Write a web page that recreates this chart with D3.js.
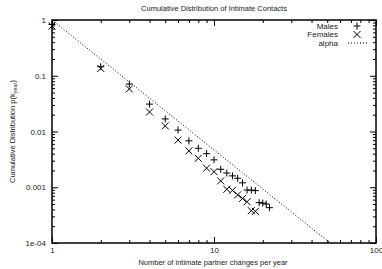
<!DOCTYPE html>
<html><head><meta charset="utf-8">
<script src="https://cdn.jsdelivr.net/npm/d3@7"></script>
<style>html,body{margin:0;padding:0;background:#fff;}svg{display:block;font-family:"Liberation Sans",Arial,sans-serif;}</style>
</head><body>
<svg id="c" width="382" height="269"></svg>
<script>
const title = "Cumulative Distribution of Intimate Contacts";
const xLabel = "Number of intimate partner changes per year";
const yLabelMain = "Cumulative Distribution p(k";
const yLabelSub = "year";
const xTicks = [1, 10, 100];
const xTickLabels = ["1", "10", "100"];
const yTicks = [1, 0.1, 0.01, 0.001, 0.0001];
const yTickLabels = ["1", "0.1", "0.01", "0.001", "1e-04"];
const seriesNames = ["Males", "Females", "alpha"];

const maleK = [1,2,3,4,5,6,7,8,9,10,11,12,13,14,15,16,17,18,19,20,21,22];
const maleP = [0.83,0.145,0.071,0.031,0.0168,0.0106,0.0068,0.0050,0.0040,0.0031,0.0021,0.0018,0.0016,0.00145,0.0012,0.00089,0.00089,0.00087,0.00053,0.00052,0.00050,0.00043];
const femaleK = [1,2,3,4,5,6,7,8,9,10,11,12,13,14,15,16,17,18];
const femaleP = [0.78,0.135,0.058,0.0224,0.0126,0.0070,0.0045,0.0033,0.0022,0.0019,0.0013,0.00092,0.00088,0.00073,0.00063,0.00055,0.00038,0.00037];
const alphaExp = 2.33;
const alphaK = [1, 100];

const svg = d3.select("#c");
const W = 382, H = 269;
const m = {l:52, r:6, t:20, b:26};
const x = d3.scaleLog().domain([1,100]).range([m.l, W - m.r]);
const y = d3.scaleLog().domain([1e-4,1]).range([H - m.b, m.t]);
const x0 = x.range()[0], x1 = x.range()[1], y0 = y.range()[0], y1 = y.range()[1];

const minorX = [];
[1,10].forEach(d => { for (let i=2;i<=9;i++) minorX.push(d*i); });
const minorY = [];
[1e-4,1e-3,1e-2,1e-1].forEach(d => { for (let i=2;i<=9;i++) minorY.push(d*i); });

const textCol = "#222";
function styleAxis(g, showText){
  g.select(".domain").remove();
  g.selectAll("line").attr("stroke","#000").attr("stroke-width",1);
  g.selectAll("text").attr("fill",textCol).style("font-size","8px");
  if(!showText) g.selectAll("text").remove();
}

// clip for alpha line
svg.append("clipPath").attr("id","pc").append("rect")
  .attr("x",x0).attr("y",y1).attr("width",x1-x0).attr("height",y0-y1);

// axes
const xl = i => xTickLabels[xTicks.indexOf(i)];
const yl = i => yTickLabels[yTicks.indexOf(i)];
svg.append("g").attr("transform",`translate(0,${y0})`)
  .call(d3.axisBottom(x).tickValues(xTicks).tickFormat(xl).tickSize(-6).tickPadding(4))
  .call(g=>styleAxis(g,true));
svg.append("g").attr("transform",`translate(0,${y0})`)
  .call(d3.axisBottom(x).tickValues(minorX).tickFormat("").tickSize(-3))
  .call(g=>styleAxis(g,false));
svg.append("g").attr("transform",`translate(0,${y1})`)
  .call(d3.axisTop(x).tickValues(xTicks).tickFormat("").tickSize(-6))
  .call(g=>styleAxis(g,false));
svg.append("g").attr("transform",`translate(0,${y1})`)
  .call(d3.axisTop(x).tickValues(minorX).tickFormat("").tickSize(-3))
  .call(g=>styleAxis(g,false));
svg.append("g").attr("transform",`translate(${x0},0)`)
  .call(d3.axisLeft(y).tickValues(yTicks).tickFormat(yl).tickSize(-6).tickPadding(6))
  .call(g=>styleAxis(g,true));
svg.append("g").attr("transform",`translate(${x0},0)`)
  .call(d3.axisLeft(y).tickValues(minorY).tickFormat("").tickSize(-3))
  .call(g=>styleAxis(g,false));
svg.append("g").attr("transform",`translate(${x1},0)`)
  .call(d3.axisRight(y).tickValues(yTicks).tickFormat("").tickSize(-6))
  .call(g=>styleAxis(g,false));
svg.append("g").attr("transform",`translate(${x1},0)`)
  .call(d3.axisRight(y).tickValues(minorY).tickFormat("").tickSize(-3))
  .call(g=>styleAxis(g,false));

// frame
svg.append("rect").attr("x",x0).attr("y",y1).attr("width",x1-x0).attr("height",y0-y1)
  .attr("fill","none").attr("stroke","#000").attr("stroke-width",1.5);

// alpha line
const alphaPts = alphaK.map(k => [k, Math.pow(k,-alphaExp)]);
svg.append("path").attr("clip-path","url(#pc)")
  .attr("d", d3.line().x(d=>x(d[0])).y(d=>y(d[1]))(alphaPts))
  .attr("fill","none").attr("stroke","#000").attr("stroke-width",1).attr("stroke-dasharray","1,2");

const s = 3.5;
function plus(g, cx, cy){
  g.append("path").attr("d",`M${cx-s},${cy}H${cx+s}M${cx},${cy-s}V${cy+s}`)
    .attr("stroke","#000").attr("stroke-width",1).attr("fill","none");
}
function cross(g, cx, cy){
  g.append("path").attr("d",`M${cx-s},${cy-s}L${cx+s},${cy+s}M${cx-s},${cy+s}L${cx+s},${cy-s}`)
    .attr("stroke","#000").attr("stroke-width",1).attr("fill","none");
}
const gm = svg.append("g");
maleK.forEach((k,i)=>plus(gm, x(k), y(maleP[i])));
const gf = svg.append("g");
femaleK.forEach((k,i)=>cross(gf, x(k), y(femaleP[i])));

// legend
const lg = svg.append("g");
const ly = [26, 34.5, 43];
seriesNames.forEach((n,i)=>{
  lg.append("text").attr("x",338).attr("y",ly[i]).attr("dy","0.35em").attr("text-anchor","end")
    .attr("fill",textCol).style("font-size","8px").text(n);
});
plus(lg, 357, ly[0]);
cross(lg, 357, ly[1]);
lg.append("line").attr("x1",348).attr("x2",367).attr("y1",ly[2]).attr("y2",ly[2])
  .attr("stroke","#000").attr("stroke-width",1).attr("stroke-dasharray","1,2");

// title and labels
svg.append("text").attr("x",214).attr("y",8).attr("dy","0.35em").attr("text-anchor","middle")
  .attr("fill",textCol).style("font-size","7.5px").text(title);
svg.append("text").attr("x",213).attr("y",262).attr("dy","0.35em").attr("text-anchor","middle")
  .attr("fill",textCol).style("font-size","7.5px").text(xLabel);
const yt = svg.append("text").attr("transform",`translate(12,${(y0+y1)/2}) rotate(-90)`)
  .attr("text-anchor","middle").attr("dy","0.35em").attr("fill",textCol).style("font-size","7.5px");
yt.append("tspan").text(yLabelMain);
yt.append("tspan").attr("dy","2").style("font-size","5.5px").text(yLabelSub);
yt.append("tspan").attr("dy","-2").text(")");
</script>
</body></html>
